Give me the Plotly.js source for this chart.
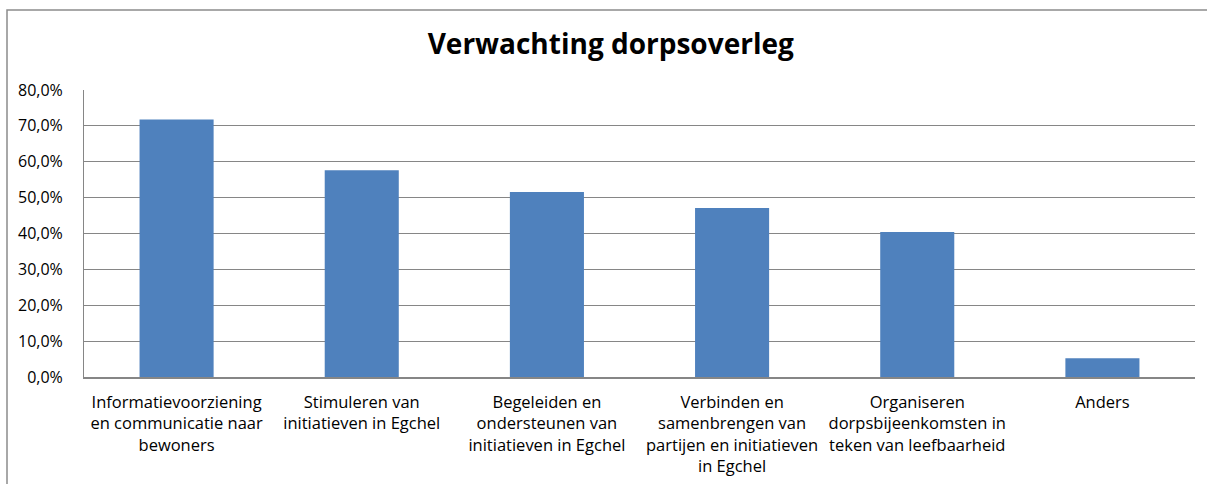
<!DOCTYPE html>
<html>
<head>
<meta charset="utf-8">
<script src="https://cdn.plot.ly/plotly-3.0.1.min.js"></script>
<style>
  html, body { margin: 0; padding: 0; background: #ffffff; overflow: hidden; }
  #chart { width: 1207px; height: 484px; }
</style>
</head>
<body>
<div id="chart"></div>
<script>
const categories = [
  "Informatievoorziening<br>en communicatie naar<br>bewoners",
  "Stimuleren van<br>initiatieven in Egchel",
  "Begeleiden en<br>ondersteunen van<br>initiatieven in Egchel",
  "Verbinden en<br>samenbrengen van<br>partijen en initiatieven<br>in Egchel",
  "Organiseren<br>dorpsbijeenkomsten in<br>teken van leefbaarheid",
  "Anders"
];
const values = [71.8, 57.6, 51.6, 47.1, 40.4, 5.2];
const yTickValues = [0, 10, 20, 30, 40, 50, 60, 70, 80];
const yTickLabels = ["0,0%", "10,0%", "20,0%", "30,0%", "40,0%", "50,0%", "60,0%", "70,0%", "80,0%"];
const chartTitle = "Verwachting dorpsoverleg";

const trace = {
  type: "bar",
  x: categories,
  y: values,
  marker: { color: "#4F81BD" },
  hoverinfo: "none"
};

const fam = "Open Sans, Noto Sans, sans-serif";
const W = 1207, H = 484;
const M = { l: 84, r: 12, t: 90, b: 107 };
const pw = W - M.l - M.r, ph = H - M.t - M.b;
// outer chart frame (left and top edges), in paper units
const fx = (7 - M.l) / pw, fy = (H - M.b - 10) / ph;
const fyBottom = -(M.b + 10) / ph, fxRight = (W + 20 - M.l) / pw;

const layout = {
  width: W,
  height: H,
  margin: M,
  paper_bgcolor: "#ffffff",
  plot_bgcolor: "#ffffff",
  bargap: 0.6,
  showlegend: false,
  font: { family: fam, color: "#000000", size: 15 },
  title: {
    text: "<b>" + chartTitle + "</b>",
    font: { family: fam, size: 28, color: "#000000" },
    x: 0.506, xanchor: "center",
    y: 1, yref: "container", yanchor: "top", pad: { t: 34 }
  },
  shapes: [{
    type: "path", xref: "paper", yref: "paper",
    path: "M " + fx + "," + fyBottom + " L " + fx + "," + fy + " L " + fxRight + "," + fy,
    line: { color: "#8c8c8c", width: 1.5 }
  }],
  xaxis: {
    type: "category",
    showgrid: false,
    showline: true,
    linecolor: "#868686",
    linewidth: 2,
    ticks: "",
    tickfont: { size: 16.5, family: fam },
    ticklabelstandoff: 9,
    tickangle: 0
  },
  yaxis: {
    range: [0, 80],
    tickmode: "array",
    tickvals: yTickValues,
    ticktext: yTickLabels,
    showgrid: true,
    gridcolor: "#868686",
    gridwidth: 1,
    showline: true,
    linecolor: "#868686",
    linewidth: 1,
    zeroline: false,
    ticks: "",
    ticklabelstandoff: 17,
    tickfont: { size: 16, family: fam }
  }
};

Plotly.newPlot("chart", [trace], layout, { staticPlot: true, displayModeBar: false });
</script>
</body>
</html>
